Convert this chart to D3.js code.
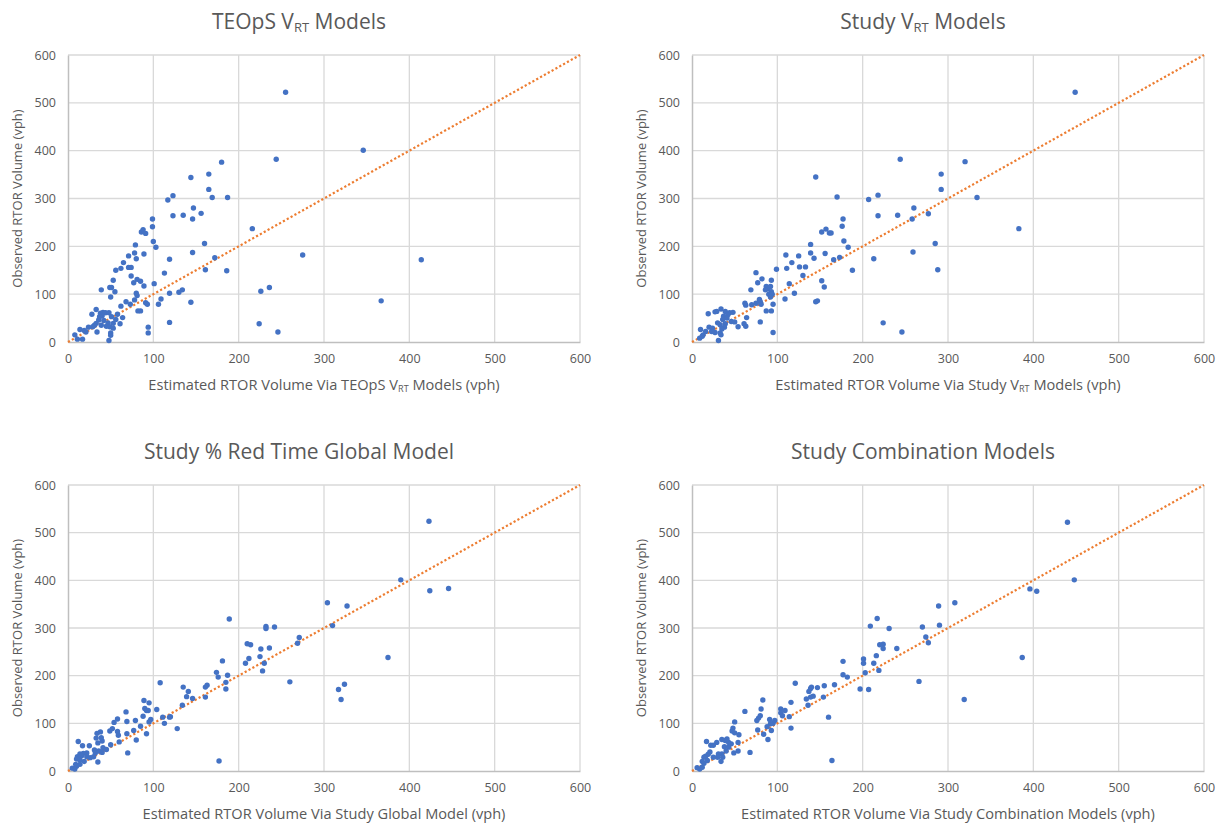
<!DOCTYPE html>
<html>
<head>
<meta charset="utf-8">
<script src="https://cdn.jsdelivr.net/npm/d3@7/dist/d3.min.js"></script>
<style>
    body { margin: 0; background: #ffffff; }
    text { font-family: "Open Sans", "Noto Sans", sans-serif; fill: #595959; }
</style>
</head>
<body>
<svg id="chart" width="1223" height="828"></svg>
<script>

// estimated vs observed RTOR volume (vph)
var teopsPts = [
    [180,376],[144,344],[165,351],[165,319],[169,302],[187,302],[117,297],[123,306],[147,280],[156,269],
    [146,257],[135,265],[123,264],[99,257],[99,241],[86,230],[88,235],[91,227],[100,210],[103,198],
    [79,203],[160,206],[146,187],[172,176],[161,151],[186,149],[78,186],[89,184],[71,180],[80,174],
    [65,166],[62,154],[71,156],[74,156],[56,150],[74,138],[53,129],[81,131],[85,127],[77,124],
    [89,117],[119,173],[113,144],[101,122],[49,114],[51,114],[39,109],[55,105],[80,102],[50,94],
    [81,97],[78,88],[68,84],[73,79],[91,82],[93,79],[62,75],[119,102],[130,104],[134,109],
    [144,83],[109,90],[106,79],[82,65],[85,65],[33,68],[28,58],[41,62],[38,60],[44,61],
    [48,61],[40,55],[58,58],[64,51],[61,38],[51,53],[36,46],[33,39],[31,35],[42,45],
    [47,40],[53,39],[56,47],[45,33],[49,32],[24,31],[14,26],[21,21],[34,21],[19,24],
    [8,15],[17,6],[11,6],[50,19],[50,14],[48,3],[53,29],[94,31],[94,19],[119,41],
    [37,53],[29,32],[39,35],
    [255,522],[346,401],[244,382],[216,237],[275,182],[414,172],[226,106],[236,114],[367,86],[224,38],
    [246,21]
];

var studyPts = [
    [145,345],[170,303],[207,298],[218,307],[218,264],[177,257],[176,242],[152,230],[157,236],[161,228],
    [163,228],[178,211],[183,198],[139,204],[139,186],[156,185],[143,175],[110,182],[125,180],[117,166],
    [111,154],[126,157],[133,157],[166,172],[173,177],[188,150],[213,174],[99,152],[130,139],[75,145],
    [82,132],[93,129],[77,124],[69,109],[87,116],[89,111],[92,116],[86,109],[93,105],[90,100],
    [94,100],[114,122],[152,128],[155,115],[120,102],[109,90],[145,84],[147,86],[79,89],[80,84],
    [92,94],[62,81],[63,77],[70,78],[75,81],[81,79],[95,79],[87,65],[93,65],[64,51],
    [80,42],[61,38],[63,33],[54,32],[95,20],[224,40],[34,69],[27,63],[19,59],[29,64],
    [39,64],[44,61],[48,62],[42,57],[37,54],[36,47],[41,50],[30,40],[33,36],[39,38],
    [46,43],[50,42],[20,31],[24,29],[27,20],[33,19],[34,15],[10,26],[13,15],[9,8],
    [12,12],[31,3],[23,22],[38,31],[16,22],[35,27],
    [449,522],[244,382],[320,377],[292,351],[292,319],[334,302],[241,265],[260,280],[258,257],[277,268],
    [383,237],[285,206],[259,188],[288,151],[246,21]
];

var globalPts = [
    [189,319],[210,267],[212,236],[181,231],[208,226],[174,207],[176,197],[187,201],[185,186],[185,172],
    [108,185],[135,176],[141,167],[139,156],[146,152],[161,176],[163,180],[161,155],[134,138],[104,129],
    [89,148],[95,143],[90,131],[92,127],[94,127],[88,115],[97,108],[95,103],[111,113],[113,100],
    [119,113],[120,114],[128,89],[68,124],[58,109],[69,104],[54,102],[79,106],[85,94],[49,84],
    [52,89],[58,83],[59,75],[60,61],[69,78],[77,85],[80,65],[92,78],[38,82],[34,79],
    [35,59],[40,63],[39,70],[33,69],[41,49],[50,55],[45,45],[36,42],[31,44],[32,38],
    [40,39],[25,53],[17,53],[12,62],[22,38],[18,37],[14,36],[11,30],[10,25],[19,20],
    [14,23],[26,28],[30,30],[35,19],[14,14],[9,14],[10,10],[5,6],[8,4],[70,38],
    [177,21],[16,32],[22,30],
    [423,524],[390,401],[424,378],[446,383],[304,353],[327,346],[310,305],[232,303],[232,299],[242,302],
    [214,265],[226,256],[236,258],[271,280],[269,268],[225,240],[230,226],[228,210],[375,238],[260,187],
    [317,171],[324,182],[320,150]
];

var comboPts = [
    [209,304],[177,230],[201,235],[201,226],[213,226],[177,202],[182,197],[203,206],[197,172],[207,171],
    [167,181],[155,179],[147,175],[140,176],[139,173],[137,167],[134,151],[139,155],[142,157],[154,155],
    [136,138],[121,184],[116,144],[104,130],[109,127],[104,122],[106,116],[114,114],[116,90],[160,113],
    [83,149],[81,130],[62,125],[80,116],[78,111],[76,106],[91,108],[97,106],[95,100],[92,99],
    [88,93],[93,85],[77,86],[84,77],[89,66],[50,103],[48,90],[47,84],[50,80],[55,76],
    [54,60],[54,42],[68,39],[49,38],[35,66],[29,60],[39,64],[43,60],[22,54],[25,54],
    [17,62],[38,51],[43,50],[40,42],[35,36],[31,36],[30,29],[36,29],[34,20],[21,40],
    [19,35],[16,31],[14,29],[12,20],[14,16],[18,22],[25,29],[12,8],[6,7],[9,4],
    [164,22],[41,67],[46,57],
    [440,522],[448,401],[396,382],[404,377],[289,346],[308,353],[217,320],[231,299],[270,302],[290,306],
    [220,265],[224,266],[224,257],[240,257],[274,281],[277,269],[216,242],[219,211],[387,238],[266,188],
    [319,150]
];

var ticks = [0, 100, 200, 300, 400, 500, 600];
var diag = [0, 600];   // 1:1 line

// text pieces, second item true = subscript
var titles = [
    [["TEOpS V"], ["RT", true], [" Models"]],
    [["Study V"], ["RT", true], [" Models"]],
    [["Study % Red Time Global Model"]],
    [["Study Combination Models"]]
];
var xLabels = [
    [["Estimated RTOR Volume Via TEOpS V"], ["RT", true], [" Models (vph)"]],
    [["Estimated RTOR Volume Via Study V"], ["RT", true], [" Models (vph)"]],
    [["Estimated RTOR Volume Via Study Global Model (vph)"]],
    [["Estimated RTOR Volume Via Study Combination Models (vph)"]]
];
var yLabel = "Observed RTOR Volume (vph)";

var svg = d3.select("#chart");
svg.append("rect").attr("width", 1223).attr("height", 828).attr("fill", "#ffffff");

var boxes = [
    { left: 68, right: 580, top: 55, bottom: 342 },
    { left: 692, right: 1204, top: 55, bottom: 342 },
    { left: 68, right: 580, top: 485, bottom: 771 },
    { left: 692, right: 1204, top: 485, bottom: 771 }
];
var allPts = [teopsPts, studyPts, globalPts, comboPts];

for (let i = 0; i < 4; i++) {
    drawPanel(boxes[i], allPts[i], titles[i], xLabels[i]);
}

function addParts(textSel, parts, size) {
    parts.forEach(function (p) {
        let t = textSel.append("tspan").text(p[0]);
        if (p[1]) {
            t.attr("font-size", size * 0.62).attr("baseline-shift", "-22%");
        }
    });
}

function drawPanel(b, pts, title, xlab) {
    let x = d3.scaleLinear().domain([0, 600]).range([b.left, b.right]);
    let y = d3.scaleLinear().domain([0, 600]).range([b.bottom, b.top]);
    let g = svg.append("g");

    // grid
    g.selectAll(".gx").data(ticks.slice(1)).enter().append("line")
        .attr("x1", d => x(d)).attr("x2", d => x(d))
        .attr("y1", b.top).attr("y2", b.bottom)
        .attr("stroke", "#d9d9d9").attr("stroke-width", 1.3);
    g.selectAll(".gy").data(ticks.slice(1)).enter().append("line")
        .attr("x1", b.left).attr("x2", b.right)
        .attr("y1", d => y(d)).attr("y2", d => y(d))
        .attr("stroke", "#d9d9d9").attr("stroke-width", 1.3);

    // axes
    let xAxis = d3.axisBottom(x).tickValues(ticks).tickSize(0).tickPadding(12);
    let yAxis = d3.axisLeft(y).tickValues(ticks).tickSize(0).tickPadding(12);
    let ax = g.append("g").attr("transform", "translate(0," + b.bottom + ")").call(xAxis);
    let ay = g.append("g").attr("transform", "translate(" + b.left + ",0)").call(yAxis);
    [ax, ay].forEach(function (a) {
        a.select(".domain").attr("stroke", "#bfbfbf").attr("stroke-width", 1.5);
        a.selectAll("text").attr("font-size", 12.5).attr("fill", "#595959")
            .style("font-family", "'Open Sans', sans-serif");
    });

    // 1:1 line
    let line = d3.line().x(d => x(d)).y(d => y(d));
    g.append("path").datum(diag).attr("d", line)
        .attr("fill", "none").attr("stroke", "#ed7d31")
        .attr("stroke-width", 2.2).attr("stroke-dasharray", "2.2,2.2");

    // points
    g.selectAll(".pt").data(pts).enter().append("circle")
        .attr("cx", d => x(d[0])).attr("cy", d => y(d[1]))
        .attr("r", 2.7).attr("fill", "#4472c4");

    let cx = (b.left + b.right) / 2;

    // title
    let t = g.append("text").attr("x", cx - 25).attr("y", b.top - 26)
        .attr("text-anchor", "middle").attr("font-size", 21);
    addParts(t, title, 21);

    // axis titles
    let xl = g.append("text").attr("x", cx).attr("y", b.bottom + 48)
        .attr("text-anchor", "middle").attr("font-size", 14.6);
    addParts(xl, xlab, 14.6);

    g.append("text")
        .attr("transform", "translate(" + (b.left - 46) + "," + ((b.top + b.bottom) / 2) + ") rotate(-90)")
        .attr("text-anchor", "middle").attr("font-size", 13)
        .text(yLabel);
}

</script>
</body>
</html>
